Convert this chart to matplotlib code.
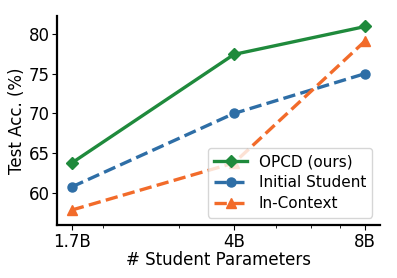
import matplotlib
matplotlib.use("Agg")
import matplotlib.pyplot as plt
from matplotlib.ticker import FixedLocator, NullFormatter

sizes = [1.7, 4, 8]
size_labels = ["1.7B", "4B", "8B"]
opcd = [63.8, 77.4, 80.9]
initial_student = [60.8, 70.0, 75.0]
in_context = [57.9, 63.8, 79.1]

fig = plt.figure(figsize=(3.97, 2.78), dpi=100)
ax = fig.add_axes([0.144, 0.19, 0.813, 0.752])

ax.plot(sizes, opcd, "-", marker="D", color="#1f8a3c", lw=2.4, ms=6.5, label="OPCD (ours)")
ax.plot(sizes, initial_student, "--", marker="o", color="#2e6ea6", lw=2.4, ms=6.5, label="Initial Student")
ax.plot(sizes, in_context, "--", marker="^", color="#f26b2a", lw=2.4, ms=6.5, label="In-Context")

ax.set_xscale("log")
ax.xaxis.set_major_locator(FixedLocator(sizes))
ax.set_xticklabels(size_labels)
ax.xaxis.set_minor_locator(FixedLocator([2, 3, 5, 6, 7]))
ax.xaxis.set_minor_formatter(NullFormatter())
ax.set_ylim(56, 82.2)
ax.set_yticks([60, 65, 70, 75, 80])

for side in ["top", "right"]:
    ax.spines[side].set_visible(False)
for side in ["left", "bottom"]:
    ax.spines[side].set_linewidth(1.6)

ax.tick_params(labelsize=12, pad=2)
ax.set_xlabel("# Student Parameters", fontsize=12, labelpad=0)
ax.set_ylabel("Test Acc. (%)", fontsize=12, labelpad=2)
ax.legend(loc="lower right", fontsize=11, handlelength=2.1, borderaxespad=0.5,
          labelspacing=0.4)

fig.savefig("out.png", dpi=100)
